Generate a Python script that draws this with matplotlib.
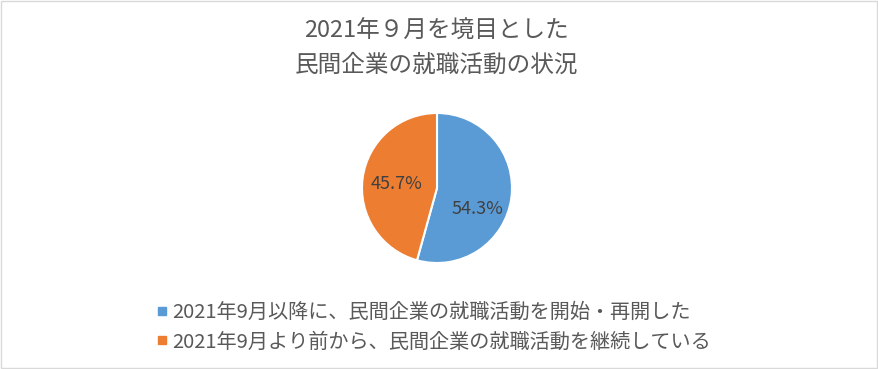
import matplotlib
matplotlib.use('Agg')
import matplotlib.pyplot as plt
from matplotlib.lines import Line2D
from matplotlib.patches import Rectangle

plt.rcParams['font.family'] = ['Noto Sans CJK JP', 'DejaVu Sans']

title = '2021年９月を境目とした\n民間企業の就職活動の状況'
labels = ['2021年9月以降に、民間企業の就職活動を開始・再開した',
          '2021年9月より前から、民間企業の就職活動を継続している']
shares = [54.3, 45.7]
colors = ['#5B9BD5', '#ED7D31']
textColor = '#595959'

fig = plt.figure(figsize=(8.79, 3.69), dpi=100)
fig.add_artist(Rectangle((0.001, 0.002), 0.997, 0.995, transform=fig.transFigure,
                         fill=False, edgecolor='#D9D9D9', linewidth=1))

fig.text(0.497, 0.947, title, ha='center', va='top', fontsize=17,
         color=textColor, linespacing=1.62)

# pie centred around (437, 188) px, radius ~75 px
ax = fig.add_axes([362/879, 106/369, 150/879, 150/369])
wedges, texts, autotexts = ax.pie(shares, colors=colors, startangle=90,
                                  counterclock=False, autopct='%.1f%%',
                                  pctdistance=0.64,
                                  wedgeprops={'edgecolor': 'white', 'linewidth': 1.5},
                                  textprops={'fontsize': 13, 'color': '#404040'})
ax.set_xlim(-1, 1)
ax.set_ylim(-1, 1)
ax.set_aspect('equal')

# nudge labels a bit like the original layout
x, y = autotexts[0].get_position()
autotexts[0].set_position((x - 0.1, y - 0.2))
x, y = autotexts[1].get_position()
autotexts[1].set_position((x + 0.1, y - 0.03))

handles = [Line2D([], [], marker='s', linestyle='none', markersize=6,
                  markerfacecolor=c, markeredgecolor=c) for c in colors]
fig.legend(handles, labels, loc='upper left', bbox_to_anchor=(157/879, 1 - 302/369),
           frameon=False, fontsize=14.5, labelcolor=textColor,
           handlelength=0.5, handletextpad=0.25, labelspacing=0.42,
           borderaxespad=0, borderpad=0)

fig.savefig('out.png', dpi=100)
